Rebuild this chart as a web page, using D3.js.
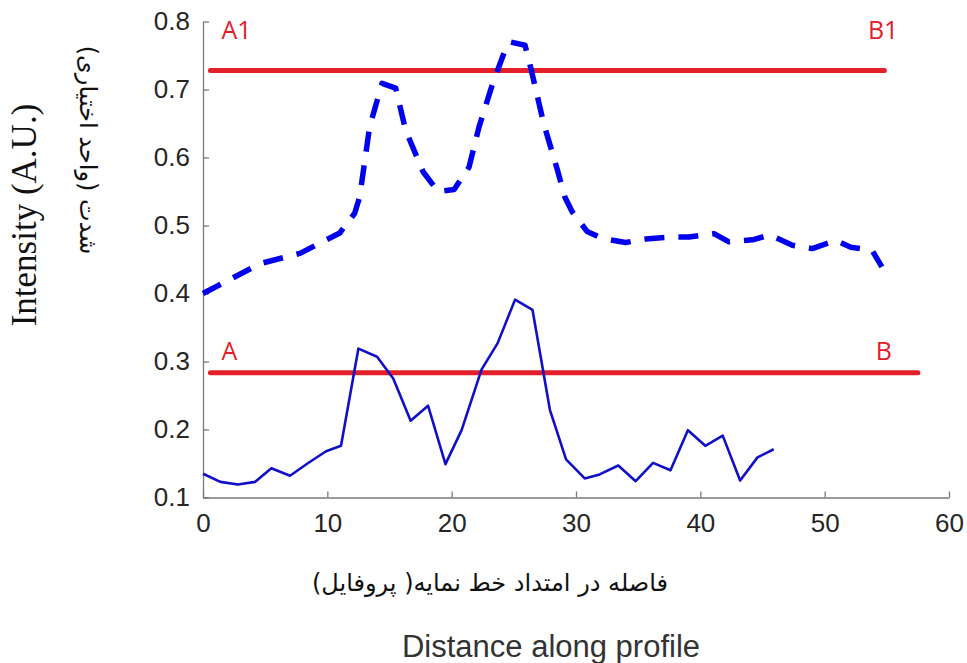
<!DOCTYPE html>
<html><head><meta charset="utf-8">
<script src="https://cdn.jsdelivr.net/npm/d3@7"></script>
<style>body{margin:0;background:#fff}svg{display:block}</style>
</head><body>
<script>
// ---- data ----
const solidX = [0,1.4,2.8,4.2,5.5,7.0,8.4,9.9,11.1,12.5,14.0,15.3,16.7,18.1,19.5,20.8,22.4,23.7,25.1,26.5,27.9,29.2,30.7,31.9,33.4,34.8,36.2,37.6,39.0,40.4,41.8,43.2,44.6,45.9];
const solidY = [0.135,0.123,0.119,0.123,0.143,0.132,0.150,0.168,0.176,0.319,0.307,0.275,0.213,0.235,0.149,0.199,0.288,0.327,0.391,0.376,0.229,0.156,0.128,0.134,0.147,0.124,0.151,0.140,0.199,0.176,0.191,0.125,0.159,0.171];
const dashX = [0,4.6,7.8,11.0,12.2,12.6,13.4,14.4,15.5,16.3,17.7,18.9,20.2,21.4,22.2,23.3,24.4,24.7,25.9,26.4,27.4,28.5,29.1,29.7,30.9,32.1,34.0,35.6,37.5,39.1,41.1,42.3,44.2,45.6,47.4,49.0,50.9,52.1,53.8,54.6];
const dashY = [0.400,0.444,0.459,0.489,0.518,0.542,0.645,0.709,0.702,0.640,0.579,0.550,0.553,0.586,0.645,0.709,0.763,0.770,0.765,0.729,0.650,0.582,0.542,0.520,0.491,0.481,0.475,0.480,0.483,0.483,0.488,0.476,0.479,0.486,0.471,0.466,0.478,0.468,0.464,0.439];
const refLines = [
  {y:0.728, x0:0.6, x1:54.8, left:"A1", right:"B1"},
  {y:0.2835, x0:0.6, x1:57.5, left:"A", right:"B"}
];
const xTicks = [0,10,20,30,40,50,60];
const yTicks = [0.1,0.2,0.3,0.4,0.5,0.6,0.7,0.8];
const yTitleEn = "Intensity (A.U.)";
const yTitleFa = "شدت (واحد اختیاری)";
const xTitleFa = "فاصله در امتداد خط  نمایه( پروفایل)";
const xTitleEn = "Distance along profile";

// ---- drawing ----
const W=967,H=663;
const svg=d3.select("body").append("svg").attr("width",W).attr("height",H);
const x=d3.scaleLinear().domain([0,60]).range([203,949]);
const y=d3.scaleLinear().domain([0.1,0.8]).range([497.5,21.5]);

const axisCol="#7a7a7a", txtCol="#262626";
const gx=svg.append("g").attr("transform",`translate(0,${y(0.1)})`)
  .call(d3.axisBottom(x).tickValues(xTicks).tickSize(-6).tickSizeOuter(0).tickPadding(16).tickFormat(d3.format("d")));
const gy=svg.append("g").attr("transform",`translate(${x(0)},0)`)
  .call(d3.axisLeft(y).tickValues(yTicks).tickSize(-6).tickSizeOuter(0).tickPadding(13).tickFormat(d3.format(".1f")));
[gx,gy].forEach(g=>{
  g.select(".domain").attr("stroke",axisCol).attr("stroke-width",1.3);
  g.selectAll(".tick line").attr("stroke",axisCol).attr("stroke-width",1.3);
  g.selectAll(".tick text").attr("fill",txtCol).style("font-family","Liberation Sans, Arial, sans-serif").style("font-size","26px");
});

// red reference lines
const red="#e3202a";
refLines.forEach((r,i)=>{
  const dy = i===0 ? -31.5 : -12.5;
  svg.append("line").attr("x1",x(r.x0)).attr("x2",x(r.x1)).attr("y1",y(r.y)).attr("y2",y(r.y))
    .attr("stroke",red).attr("stroke-width",5).attr("stroke-linecap","round");
  svg.append("text").attr("x",x(r.x0)+11).attr("y",y(r.y)+dy).text(r.left)
    .attr("fill",red).style("font-family","Open Sans, sans-serif").style("font-size","25px");
  svg.append("text").attr("x",x(r.x1)+(i===0?14:-26)).attr("y",y(r.y)+dy).attr("text-anchor","end").text(r.right)
    .attr("fill",red).style("font-family","Open Sans, sans-serif").style("font-size","25px");
});

const line=d3.line().x(d=>x(d[0])).y(d=>y(d[1]));
svg.append("path").datum(dashX.map((v,i)=>[v,dashY[i]])).attr("d",line)
  .attr("fill","none").attr("stroke","#0000ee").attr("stroke-width",5.5).attr("stroke-dasharray","20,14").attr("stroke-linejoin","round");
svg.append("path").datum(solidX.map((v,i)=>[v,solidY[i]])).attr("d",line)
  .attr("fill","none").attr("stroke","#1010c8").attr("stroke-width",2.6).attr("stroke-linejoin","round");

// titles
svg.append("text").attr("transform","translate(36,215) rotate(-90)").attr("text-anchor","middle")
  .text(yTitleEn).attr("fill","#111").style("font-family","Liberation Serif, Times New Roman, serif").style("font-size","35px");
svg.append("text").attr("transform","translate(80,150) rotate(90)").attr("text-anchor","middle").attr("direction","rtl")
  .text(yTitleFa).attr("fill","#111").style("font-family","DejaVu Sans, Noto Sans, sans-serif").style("font-size","24px");
svg.append("text").attr("x",490).attr("y",591).attr("text-anchor","middle").attr("direction","rtl")
  .text(xTitleFa).attr("fill","#111").style("font-family","DejaVu Sans, Noto Sans, sans-serif").style("font-size","24px");
svg.append("text").attr("x",551).attr("y",657).attr("text-anchor","middle")
  .text(xTitleEn).attr("fill","#333").style("font-family","Liberation Sans, Arial, sans-serif").style("font-size","31px");
</script>
</body></html>
